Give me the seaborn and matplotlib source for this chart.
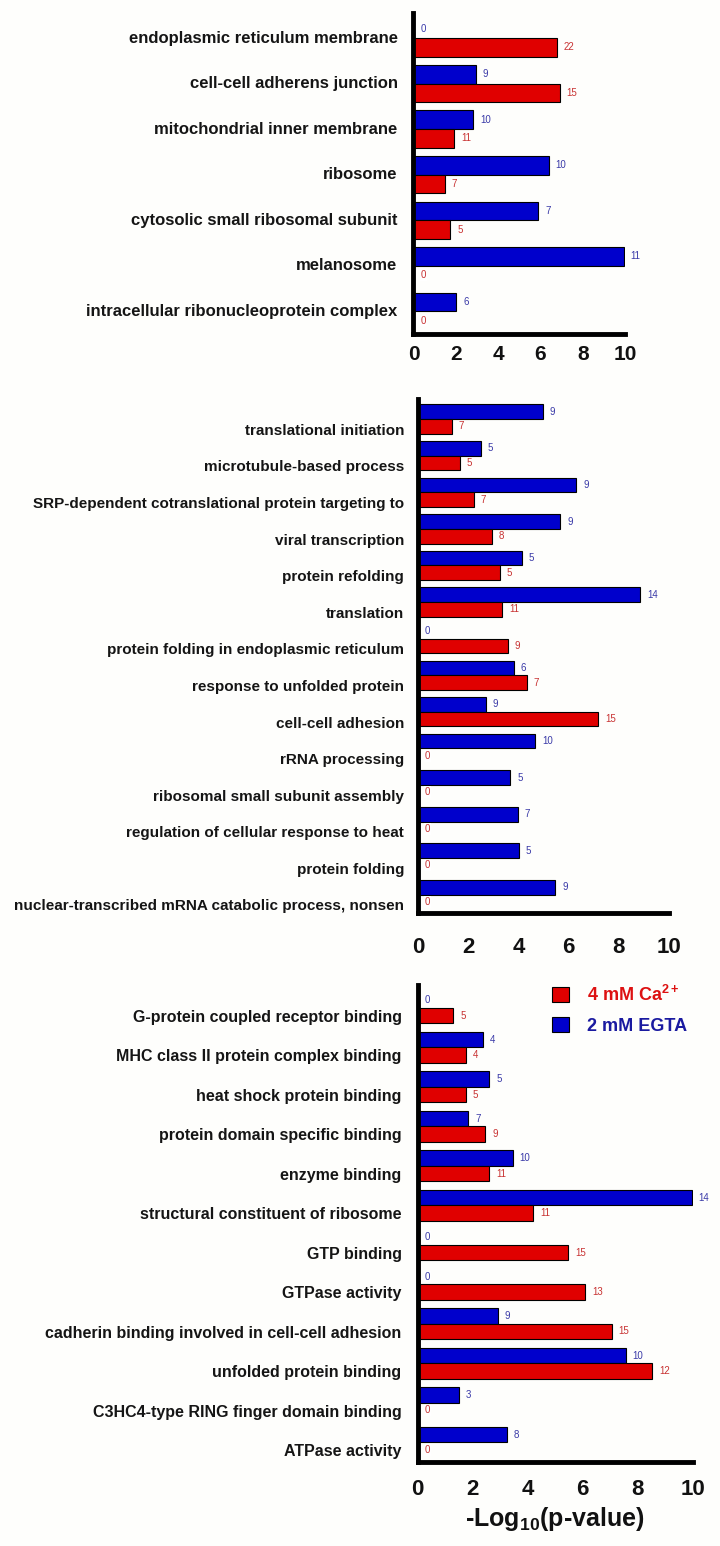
import numpy as np
import pandas as pd
import matplotlib
matplotlib.use("Agg")
import matplotlib.pyplot as plt
import matplotlib.patches as mpatches
import seaborn as sns

# ---- GO enrichment: -log10(p) and gene counts per condition ----
conditions = ["2 mM EGTA", "4 mM Ca"]

cc_terms = ["endoplasmic reticulum membrane", "cell-cell adherens junction",
            "mitochondrial inner membrane", "ribosome",
            "cytosolic small ribosomal subunit", "melanosome",
            "intracellular ribonucleoprotein complex"]
cc_egta = [0.0, 2.95, 2.82, 6.39, 5.91, 9.94, 2.02]
cc_ca = [6.77, 6.91, 1.91, 1.47, 1.74, 0.0, 0.0]
cc_egta_n = [0, 9, 10, 10, 7, 11, 6]
cc_ca_n = [22, 15, 11, 7, 5, 0, 0]

bp_terms = ["translational initiation", "microtubule-based process",
            "SRP-dependent cotranslational protein targeting to",
            "viral transcription", "protein refolding", "translation",
            "protein folding in endoplasmic reticulum",
            "response to unfolded protein", "cell-cell adhesion",
            "rRNA processing", "ribosomal small subunit assembly",
            "regulation of cellular response to heat", "protein folding",
            "nuclear-transcribed mRNA catabolic process, nonsen"]
bp_egta = [4.97, 2.50, 6.30, 5.67, 4.14, 8.86, 0.0, 3.82, 2.71, 4.66, 3.68, 3.98, 4.02, 5.47]
bp_ca = [1.35, 1.67, 2.23, 2.95, 3.27, 3.36, 3.57, 4.33, 7.17, 0.0, 0.0, 0.0, 0.0, 0.0]
bp_egta_n = [9, 5, 9, 9, 5, 14, 0, 6, 9, 10, 5, 7, 5, 9]
bp_ca_n = [7, 5, 7, 8, 5, 11, 9, 7, 15, 0, 0, 0, 0, 0]

mf_terms = ["G-protein coupled receptor binding", "MHC class II protein complex binding",
            "heat shock protein binding", "protein domain specific binding",
            "enzyme binding", "structural constituent of ribosome", "GTP binding",
            "GTPase activity", "cadherin binding involved in cell-cell adhesion",
            "unfolded protein binding", "C3HC4-type RING finger domain binding",
            "ATPase activity"]
mf_egta = [0.0, 2.39, 2.60, 1.85, 3.45, 9.95, 0.0, 0.0, 2.91, 7.56, 1.50, 3.24]
mf_ca = [1.30, 1.75, 1.75, 2.46, 2.60, 4.19, 5.47, 6.08, 7.05, 8.51, 0.0, 0.0]
mf_egta_n = [0, 4, 5, 7, 10, 14, 0, 0, 9, 10, 3, 8]
mf_ca_n = [5, 4, 5, 9, 11, 11, 15, 13, 15, 12, 0, 0]

x_ticks = [0, 2, 4, 6, 8, 10]

BLUE = "#0000CC"
RED = "#E00000"
BLUE_TXT = "#3a3aa8"
RED_TXT = "#c83232"
BG = "#fefefc"

sns.set_theme(style="white")
plt.rcParams["font.family"] = ["Liberation Sans", "DejaVu Sans"]
plt.rcParams["mathtext.fontset"] = "custom"
plt.rcParams["mathtext.rm"] = "Liberation Sans"
plt.rcParams["mathtext.bf"] = "Liberation Sans:bold"
plt.rcParams["mathtext.it"] = "Liberation Sans:italic"

W, H = 720, 1546
fig = plt.figure(figsize=(W / 100, H / 100), dpi=100, facecolor=BG)


def axes_px(x0, x1, y0, y1):
    """Axes from pixel bounds (y measured from the top of the figure)."""
    return fig.add_axes([x0 / W, 1 - y1 / H, (x1 - x0) / W, (y1 - y0) / H])


def panel(ax, terms, egta, ca, egta_n, ca_n, label_size, label_pad,
          label_shift, top_extra, bar_width, tick_size, tick_pad):
    n = len(terms)
    df = pd.DataFrame({
        "term": terms * 2,
        "cond": [conditions[0]] * n + [conditions[1]] * n,
        "value": egta + ca,
    })
    sns.barplot(data=df, x="value", y="term", hue="cond", hue_order=conditions,
                palette={conditions[0]: BLUE, conditions[1]: RED},
                orient="h", width=bar_width, saturation=1, edgecolor="black",
                linewidth=0.8, legend=False, ax=ax)
    ax.set_facecolor(BG)
    ax.set_xlim(0, 10)
    ax.set_ylim(n - 0.5, -0.5 - top_extra)
    ax.set_xlabel("")
    ax.set_ylabel("")

    # gene-count annotations at the bar ends
    for cont, counts, col in zip(ax.containers, [egta_n, ca_n], [BLUE_TXT, RED_TXT]):
        texts = ax.bar_label(cont, labels=[str(c) for c in counts], padding=5,
                             fontsize=7, color=col)
        for t, c in zip(texts, counts):
            if c == 0:
                t.set_bbox(dict(facecolor="white", edgecolor="none", pad=0.6))

    ax.set_xticks(x_ticks)
    ax.set_xticklabels([str(v) for v in x_ticks], fontsize=tick_size,
                       fontweight="bold", color="#111111")
    ax.set_yticks(np.arange(n) + label_shift)
    ax.set_yticklabels(terms, fontsize=label_size, fontweight="bold",
                       color="#151515")
    ax.set_yticks(np.arange(n) - 0.5, minor=True)

    ax.tick_params(axis="y", which="major", length=0, pad=label_pad)
    ax.tick_params(axis="y", which="minor", direction="in", length=6.5,
                   width=3.0, color="black")
    ax.tick_params(axis="x", which="major", direction="in", length=5.5,
                   width=3.5, color="black", pad=tick_pad)
    ax.tick_params(axis="x", which="minor", length=0)

    for side in ("top", "right"):
        ax.spines[side].set_visible(False)
    for side in ("left", "bottom"):
        ax.spines[side].set_linewidth(3.5)
        ax.spines[side].set_color("black")
        ax.spines[side].set_capstyle("projecting")


ax_cc = axes_px(413.5, 625, 13, 334)
panel(ax_cc, cc_terms, cc_egta, cc_ca, cc_egta_n, cc_ca_n,
      label_size=12, label_pad=11.5, label_shift=-0.03, top_extra=0.05,
      bar_width=0.82, tick_size=15, tick_pad=8)

ax_bp = axes_px(418, 669, 399, 913)
panel(ax_bp, bp_terms, bp_egta, bp_ca, bp_egta_n, bp_ca_n,
      label_size=11, label_pad=10, label_shift=0.28, top_extra=0.05,
      bar_width=0.8, tick_size=16, tick_pad=17)

ax_mf = axes_px(417.5, 693, 985, 1462)
panel(ax_mf, mf_terms, mf_egta, mf_ca, mf_egta_n, mf_ca_n,
      label_size=11.5, label_pad=11.5, label_shift=0.2, top_extra=0.08,
      bar_width=0.78, tick_size=16, tick_pad=12.5)

ax_mf.set_xlabel(r"-Log$_{\mathbf{10}}$(p-value)", fontsize=18,
                 fontweight="bold", color="#111111", labelpad=3)

handles = [mpatches.Patch(facecolor=RED, edgecolor="black", linewidth=0.8),
           mpatches.Patch(facecolor=BLUE, edgecolor="black", linewidth=0.8)]
leg = ax_mf.legend(handles, [r"4 mM Ca$^{\mathbf{2+}}$", "2 mM EGTA"],
                   loc="upper left", bbox_to_anchor=(0.49, 1.0), frameon=False,
                   borderpad=0, borderaxespad=0, handlelength=0.9,
                   handleheight=0.9, handletextpad=1.0, labelspacing=0.65,
                   prop={"size": 13, "weight": "bold"})
for txt, col in zip(leg.get_texts(), ["#dd1111", "#1a1aa0"]):
    txt.set_color(col)

fig.savefig("out.png", dpi=100, facecolor=BG)
